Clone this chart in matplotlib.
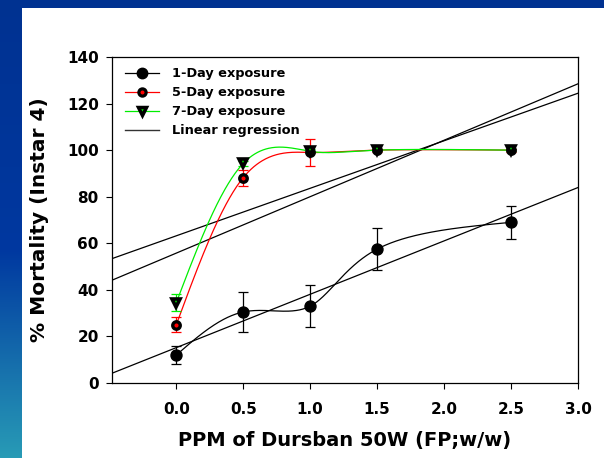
import numpy as np
import matplotlib
matplotlib.use('Agg')
import matplotlib.pyplot as plt
from matplotlib.lines import Line2D

plt.rcParams['font.family'] = ['DejaVu Sans']
plt.rcParams['font.weight'] = 'bold'

# ---- data ----
dose = [0.0, 0.5, 1.0, 1.5, 2.5]
day1 = [12.0, 30.5, 33.0, 57.5, 69.0]
day1_err = [4.0, 8.5, 9.0, 9.0, 7.0]
day5 = [25.0, 88.2, 99.0, 100.0, 100.0]
day5_err = [3.3, 3.4, 6.0, 0.6, 0.6]
day7 = [34.5, 94.3, 99.5, 100.0, 100.0]
day7_err = [3.7, 1.0, 0.8, 0.4, 0.4]
labels = ['1-Day exposure', '5-Day exposure', '7-Day exposure', 'Linear regression']
xticks = [0.0, 0.5, 1.0, 1.5, 2.0, 2.5, 3.0]
yticks = [0, 20, 40, 60, 80, 100, 120, 140]


def natural_spline(xs, ys, xq):
    xs = np.asarray(xs, float); ys = np.asarray(ys, float)
    n = len(xs); h = np.diff(xs)
    A = np.zeros((n - 2, n - 2)); r = np.zeros(n - 2)
    for i in range(n - 2):
        A[i, i] = 2 * (h[i] + h[i + 1])
        if i + 1 < n - 2:
            A[i, i + 1] = h[i + 1]
            A[i + 1, i] = h[i + 1]
        r[i] = 6 * ((ys[i + 2] - ys[i + 1]) / h[i + 1] - (ys[i + 1] - ys[i]) / h[i])
    M = np.zeros(n); M[1:-1] = np.linalg.solve(A, r)
    out = np.empty(len(xq))
    for k, xv in enumerate(xq):
        i = min(max(np.searchsorted(xs, xv) - 1, 0), n - 2)
        a = xs[i + 1] - xv; b = xv - xs[i]; hi = h[i]
        out[k] = (M[i] * a ** 3 / (6 * hi) + M[i + 1] * b ** 3 / (6 * hi)
                  + (ys[i] / hi - M[i] * hi / 6) * a + (ys[i + 1] / hi - M[i + 1] * hi / 6) * b)
    return out


def index_spline(xs, ys, n=400):
    # parametric natural spline with uniform (point index) parameter
    t = np.arange(len(xs), dtype=float)
    tq = np.linspace(0, t[-1], n)
    return natural_spline(t, xs, tq), natural_spline(t, ys, tq)


W, H = 604, 458
fig = plt.figure(figsize=(W / 100, H / 100), dpi=100)

# background bands
bg = fig.add_axes([0, 0, 1, 1], zorder=-10)
bg.set_xlim(0, W); bg.set_ylim(H, 0); bg.axis('off')
ys = np.linspace(0, H, H)
top_c = np.array([0, 50, 145]) / 255
mid_c = np.array([0, 56, 160]) / 255
bot_c = np.array([40, 155, 182]) / 255
cols = []
for yv in ys:
    if yv < 250:
        t = yv / 250; c = top_c * (1 - t) + mid_c * t
    else:
        t = (yv - 250) / (H - 250); c = mid_c * (1 - t) + bot_c * t
    cols.append(c)
grad = np.array(cols)[:, None, :]
bg.imshow(grad, extent=[0, 22, H, 0], aspect='auto', interpolation='bilinear')
bg.add_patch(plt.Rectangle((0, 0), W, 7.5, color=top_c, lw=0))

ax = fig.add_axes([112 / W, (H - 383) / H, 466 / W, 326 / H])
xmin, xmax = -0.48, 3.0
ax.set_xlim(xmin, xmax); ax.set_ylim(0, 140)

green = '#00ee00'; red = '#ff0000'
xl = np.array([xmin, xmax])

series = [(day1, day1_err, 'black'),
          (day5, day5_err, red),
          (day7, day7_err, green)]

for yv, ev, c in series:
    cx, cy = index_spline(dose, yv)
    ax.plot(cx, cy, color=c, lw=0.9, zorder=2)
    p = np.polyfit(dose, yv, 1)
    ax.plot(xl, np.polyval(p, xl), color='black', lw=0.9, zorder=1)

for yv, ev, c in series[::-1]:
    ax.errorbar(dose, yv, yerr=ev, fmt='none', ecolor=c, elinewidth=0.9,
                capsize=3.3, capthick=0.9, zorder=3)

ax.plot(dose, day1, 'o', ms=7.9, mfc='black', mec='black', zorder=4)
ax.plot(dose, day5, 'o', ms=5.4, mfc=red, mec='black', mew=2.4, zorder=4)
ax.plot(dose, day7, 'v', ms=5.8, mfc=green, mec='black', mew=2.6, zorder=5)

handles = [
    Line2D([], [], color='black', lw=0.9, marker='o', ms=7.5, mfc='black', mec='black'),
    Line2D([], [], color=red, lw=0.9, marker='o', ms=5.2, mfc=red, mec='black', mew=2.3),
    Line2D([], [], color=green, lw=0.9, marker='v', ms=5.6, mfc=green, mec='black', mew=2.5),
    Line2D([], [], color='#333333', lw=1.0),
]
leg = ax.legend(handles, labels, loc='upper left', frameon=False,
                prop={'family': 'DejaVu Sans', 'weight': 'bold', 'size': 9.3},
                handlelength=2.63, handletextpad=1.05, labelspacing=0.46,
                borderaxespad=0.0, bbox_to_anchor=(0.016, 0.984))

ax.set_xticks(xticks)
ax.set_xticklabels([f'{v:.1f}' for v in xticks])
ax.set_yticks(yticks)
ax.tick_params(direction='out', length=4.5, width=0.8, labelsize=11, pad=5)
ax.tick_params(axis='x', pad=9)
for lab in ax.get_xticklabels() + ax.get_yticklabels():
    lab.set_fontweight('bold')
for s in ax.spines.values():
    s.set_linewidth(0.9)

ax.set_xlabel('PPM of Dursban 50W (FP;w/w)', fontsize=14, fontweight='bold', labelpad=10)
ax.set_ylabel('% Mortality (Instar 4)', fontsize=14.5, fontweight='bold', labelpad=13)

fig.savefig('out.png', dpi=100)
